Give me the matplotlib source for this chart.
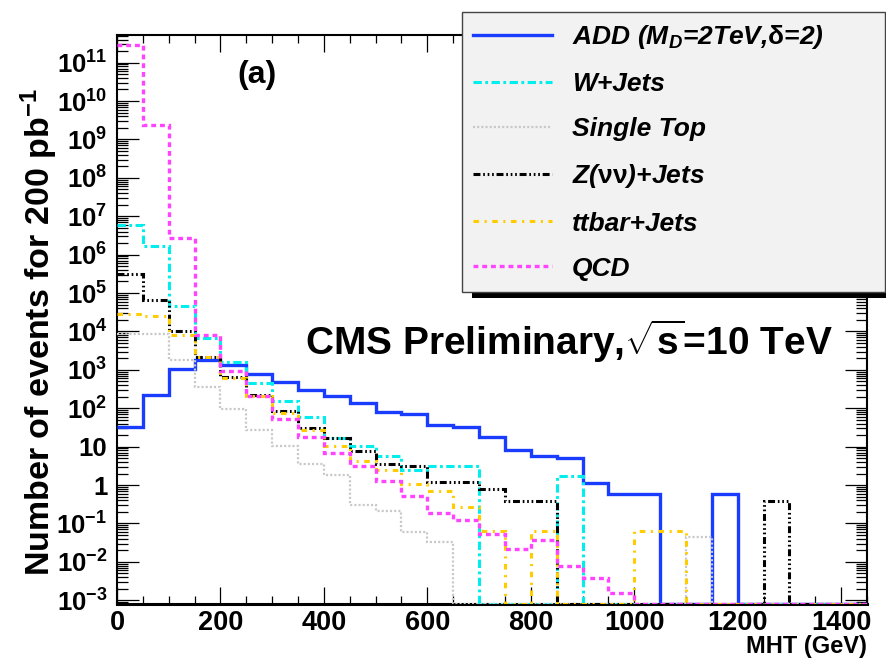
import numpy as np
import matplotlib
matplotlib.use('Agg')
import matplotlib.pyplot as plt
from matplotlib.patches import Rectangle
from matplotlib.transforms import IdentityTransform

# MHT bins (GeV) and expected events per bin for 200 pb^-1 (0 = empty bin)
edges = np.arange(0, 1451, 50)

add_signal = [32, 215, 1070, 1830, 1300, 790, 478, 303, 209, 137, 79, 72, 37, 33,
              18.3, 8.3, 5.7, 5.05, 1.12, 0.59, 0.59, 0, 0, 0.59, 0, 0, 0, 0, 0]
w_jets = [5.8e6, 1.68e6, 4.5e4, 6800, 1590, 450, 159, 59, 16.6, 10.7, 5.7, 2.5, 3.1, 3.1,
          0, 0, 0, 1.69, 0, 0, 0, 0, 0, 0, 0, 0, 0, 0, 0]
single_top = [8700, 8700, 1830, 354, 97, 27.9, 10.4, 3.56, 1.8, 0.30, 0.216, 0.059, 0.032,
              0, 0, 0, 0, 0, 0, 0, 0, 0, 0.045, 0, 0, 0, 0, 0, 0]
z_nunu = [3.2e5, 6.45e4, 1.0e4, 2140, 634, 215, 84, 31, 16.6, 7.9, 3.56, 3.2, 1.23, 1.23,
          0.79, 0.39, 0.39, 0, 0, 0, 0, 0, 0, 0, 0, 0.39, 0, 0, 0]
ttbar = [2.9e4, 2.47e4, 7900, 2140, 622, 206, 77, 27.4, 10.2, 4.3, 2.48, 1.07, 0.72, 0.263,
         0.062, 0, 0.062, 0, 0, 0, 0.062, 0.062, 0, 0, 0, 0, 0, 0, 0]
qcd = [2.88e11, 2.36e9, 2.7e6, 8200, 925, 206, 51.8, 18.3, 6.7, 3.1, 1.31, 0.51, 0.19, 0.12,
       0.053, 0.0216, 0.037, 0.0076, 0.0039, 0.00154, 0, 0, 0, 0, 0, 0, 0, 0, 0]

labels = [r'ADD (M$_{D}$=2TeV,$\mathrm{\delta}$=2)', 'W+Jets', 'Single Top',
          r'Z($\mathrm{\nu\nu}$)+Jets', 'ttbar+Jets', 'QCD']

ymin, ymax = 8e-4, 5.4e11

plt.rcParams['font.family'] = ['Liberation Sans', 'DejaVu Sans']
plt.rcParams['font.weight'] = 'bold'
plt.rcParams['axes.labelweight'] = 'bold'
plt.rcParams['mathtext.fontset'] = 'custom'
plt.rcParams['mathtext.rm'] = 'Liberation Sans:bold'
plt.rcParams['mathtext.bf'] = 'Liberation Sans:bold'
plt.rcParams['mathtext.it'] = 'Liberation Sans:bold:italic'
plt.rcParams['lines.scale_dashes'] = False

# (values, colour, width, dash pattern)
series = [
    (add_signal, '#1a3cff', 2.4, '-'),
    (w_jets, '#00eeee', 2.2, (0, (6, 2.5, 2, 2.5))),
    (single_top, '#c8c8c8', 1.6, (0, (1.5, 1.5))),
    (z_nunu, 'black', 2.2, (0, (5, 2, 1.2, 2, 1.2, 2, 1.2, 2))),
    (ttbar, '#ffcc00', 2.2, (0, (4, 4, 1.5, 4))),
    (qcd, '#ff44ff', 2.4, (0, (3.5, 2.8))),
]

fig = plt.figure(figsize=(8.86, 6.59), dpi=100)
ax = fig.add_axes([117 / 886, 1 - 604 / 659, 750 / 886, 569.5 / 659])

handles = []
for vals, col, lw, ls in series:
    v = np.asarray(vals, dtype=float)
    v = np.where(v > 0, v, ymin)
    h = ax.stairs(v, edges, baseline=None, color=col, linewidth=lw,
                  linestyle=ls, zorder=3)
    handles.append(h)

ax.set_yscale('log')
ax.set_xlim(0, 1450)
ax.set_ylim(ymin, ymax)

ax.set_xticks(np.arange(0, 1401, 200))
ax.set_xticks(np.arange(0, 1451, 50), minor=True)
ax.set_xticklabels([str(t) for t in range(0, 1401, 200)])


def decade_label(d):
    if d == 0:
        return '1'
    if d == 1:
        return '10'
    return r'$\mathbf{10^{%d}}$' % d


decades = np.arange(-3, 12)
ax.set_yticks(10.0 ** decades)
ax.set_yticklabels([decade_label(d) for d in decades])
ax.yaxis.set_minor_locator(matplotlib.ticker.LogLocator(base=10, subs=np.arange(2, 10), numticks=200))
ax.yaxis.set_minor_formatter(matplotlib.ticker.NullFormatter())

ax.tick_params(which='both', direction='in', top=True, right=True, width=0.9)
ax.tick_params(axis='x', which='major', length=12, labelsize=19.5, pad=4)
ax.tick_params(axis='x', which='minor', length=6)
ax.tick_params(axis='y', which='major', length=16, labelsize=18.5, pad=7)
ax.tick_params(axis='y', which='minor', length=8)
for s in ax.spines.values():
    s.set_linewidth(1.5)
ax.spines['bottom'].set_linewidth(2.2)

ax.set_xlabel('MHT (GeV)', fontsize=17, ha='right', va='center')
ax.xaxis.set_label_coords(1.0, -0.075)
ax.set_ylabel('Number of events for 200 pb$^{-1}$', fontsize=24.5,
              ha='center', va='center')
ax.yaxis.set_label_coords(-0.104, 0.478)

ax.text(0.187, 0.929, '(a)', transform=ax.transAxes, fontsize=23,
        ha='center', va='center')
ax.text(0.2507, 0.437, r'CMS Preliminary,$\sqrt{\mathrm{s}}$=10 TeV',
        transform=ax.transAxes, fontsize=28, ha='left', va='baseline')

leg = fig.legend(handles, labels, loc='upper left',
                 bbox_to_anchor=(462 / 886, 1 - 290 / 659, 423 / 886, 278 / 659),
                 mode='expand', borderaxespad=0, fancybox=False, framealpha=1,
                 facecolor='#f2f2f2', edgecolor='#444444',
                 prop={'family': 'Liberation Sans', 'weight': 'bold',
                       'style': 'italic', 'size': 19},
                 labelspacing=0.8, handlelength=3.0, handletextpad=0.75,
                 borderpad=0.42)
leg.get_frame().set_linewidth(1.0)

# dark drop shadow behind the legend box
fig.canvas.draw()
bb = leg.get_window_extent()
shadow = Rectangle((bb.x0 + 10, bb.y0 - 6), bb.width, bb.height,
                   transform=IdentityTransform(), facecolor='black',
                   edgecolor='none', zorder=leg.get_zorder() - 0.5)
fig.add_artist(shadow)

fig.savefig('out.png', dpi=100)
